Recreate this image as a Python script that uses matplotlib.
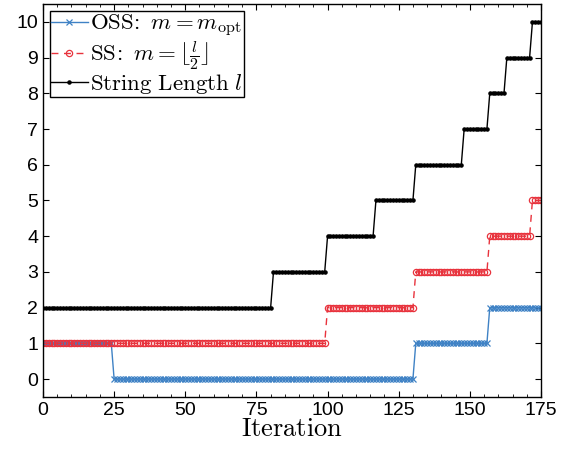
import numpy as np
import matplotlib
matplotlib.use('Agg')
import matplotlib.pyplot as plt
from matplotlib.ticker import MultipleLocator

plt.rcParams['mathtext.fontset'] = 'cm'
plt.rcParams['font.family'] = ['Liberation Sans', 'DejaVu Sans']

n_iter = 176  # iterations 0..175

# step series: iteration where each level starts, and the level
l_starts = [0, 81, 100, 117, 131, 148, 157, 163, 172]
l_levels = [2, 3, 4, 5, 6, 7, 8, 9, 10]
ss_starts = [0, 100, 131, 157, 172]
ss_levels = [1, 2, 3, 4, 5]
oss_starts = [0, 25, 131, 157]
oss_levels = [1, 0, 1, 2]

def expand(starts, levels):
    ends = starts[1:] + [n_iter]
    counts = [e - s for s, e in zip(starts, ends)]
    return np.repeat(levels, counts)

it = np.arange(n_iter)
l_vals = expand(l_starts, l_levels)
ss_vals = expand(ss_starts, ss_levels)
oss_vals = expand(oss_starts, oss_levels)

fig = plt.figure(figsize=(5.7, 4.5), dpi=100)
ax = fig.add_axes([0.0754, 0.118, 0.8737, 0.873])

ax.plot(it, oss_vals, color='#3f82c5', lw=1, marker='x', ms=4.5, mew=0.9,
        label=r'$\mathrm{OSS}\!:\ m = m_{\mathrm{opt}}$')
ax.plot(it, ss_vals, color='#e8333d', lw=1, ls=(0, (5, 4)), marker='o', ms=4.5,
        mfc='none', mew=0.9, label=r'$\mathrm{SS}\!:\ m = \lfloor \frac{l}{2} \rfloor$')
ax.plot(it, l_vals, color='black', lw=1, marker='.', ms=4.5,
        label=r'$\mathrm{String\ Length}\ l$')

ax.set_xlim(0, 175)
ax.set_ylim(-0.5, 10.5)
ax.set_xticks(np.arange(0, 176, 25))
ax.set_yticks(np.arange(0, 11, 1))
ax.xaxis.set_minor_locator(MultipleLocator(5))
ax.tick_params(which='both', direction='in', top=True, right=True, labelsize=14)
ax.tick_params(which='major', length=4)
ax.tick_params(which='minor', length=2)
for s in ax.spines.values():
    s.set_linewidth(1)

ax.set_xlabel(r'$\mathrm{Iteration}$', fontsize=19, labelpad=-1)

leg = ax.legend(loc='upper left', fontsize=16.5, handlelength=1.6, handletextpad=0.1,
                borderpad=0.05, labelspacing=0.0, borderaxespad=0.3,
                fancybox=False, framealpha=1)
leg.get_frame().set_edgecolor('black')
leg.get_frame().set_linewidth(1)

fig.savefig('out.png', dpi=100)
